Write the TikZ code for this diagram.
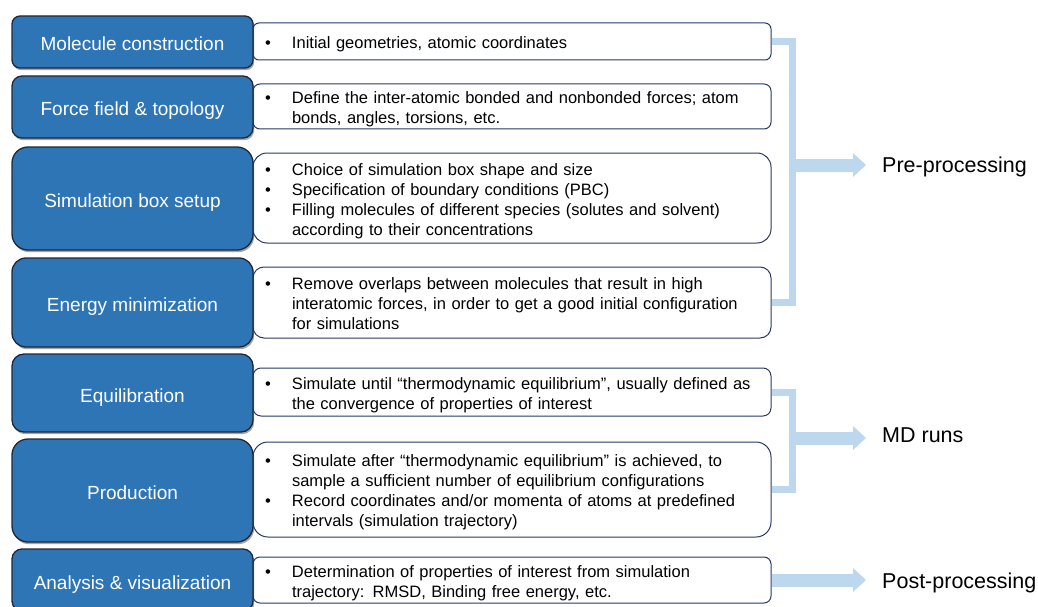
\documentclass[tikz,border=0pt]{standalone}
\usepackage{fontspec}
\setmainfont{Liberation Sans}
\usetikzlibrary{shadows,arrows.meta,calc}
\definecolor{bluefill}{RGB}{46,117,182}
\definecolor{blueedge}{RGB}{30,40,58}
\definecolor{navy}{RGB}{38,58,100}
\definecolor{lightblue}{RGB}{189,215,238}
\newcommand{\bitem}[1]{\makebox[35pt][l]{\hspace{8pt}\textbullet}#1}
\newcommand{\cont}[1]{\hspace*{35pt}#1}
\newcommand{\tp}{\rule{0pt}{19pt}}
\newcommand{\bt}{\rule[-4.5pt]{0pt}{4.5pt}}
\begin{document}
\begin{tikzpicture}[x=1pt,y=-1pt,
  stage/.style={draw=blueedge, line width=1.3pt, fill=bluefill, text=white,
    font=\fontsize{19}{23}\selectfont, minimum width=241pt, inner sep=0pt, align=center,
    text height=18pt, text depth=0pt,
    drop shadow={shadow xshift=1.2pt,shadow yshift=-2.2pt,opacity=0.5,fill=black!70}},
  desc/.style={draw=navy, line width=1pt, fill=white, minimum width=518pt, text width=510pt,
    inner xsep=4pt, inner ysep=0pt, align=left, font=\fontsize{16.5}{20}\selectfont},
  bracket/.style={draw=lightblue, line width=7pt, line join=miter},
  blockarrow/.style={draw=lightblue, line width=13pt,
    -{Triangle[length=13pt,width=24pt,line width=0pt]}},
  phase/.style={font=\fontsize{21.5}{26}\selectfont, inner sep=0pt, anchor=base west}]
\useasboundingbox (0,0) rectangle (1038,607);
\clip (0,0) rectangle (1038,607);

% description boxes
\node[desc, minimum height=37pt, rounded corners=6pt] (w1) at (512,41.5)
  {\tp\bitem{Initial geometries, atomic coordinates}\bt};
\node[desc, minimum height=45pt, rounded corners=7pt] (w2) at (512,106.5)
  {\tp\bitem{Define the inter-atomic bonded and nonbonded forces; atom}\\
   \cont{bonds, angles, torsions, etc.}\bt};
\node[desc, minimum height=90pt, rounded corners=14pt] (w3) at (512,198)
  {\tp\bitem{Choice of simulation box shape and size}\\
   \bitem{Specification of boundary conditions (PBC)}\\
   \bitem{Filling molecules of different species (solutes and solvent)}\\
   \cont{according to their concentrations}\bt};
\node[desc, minimum height=71pt, rounded corners=11pt] (w4) at (512,302.5)
  {\tp\bitem{Remove overlaps between molecules that result in high}\\
   \cont{interatomic forces, in order to get a good initial configuration}\\
   \cont{for simulations}\bt};
\node[desc, minimum height=48pt, rounded corners=8pt] (w5) at (512,392)
  {\tp\bitem{Simulate until “thermodynamic equilibrium”, usually defined as}\\
   \cont{the convergence of properties of interest}\bt};
\node[desc, minimum height=95pt, rounded corners=15pt] (w6) at (512,489.5)
  {\tp\bitem{Simulate after “thermodynamic equilibrium” is achieved, to}\\
   \cont{sample a sufficient number of equilibrium configurations}\\
   \bitem{Record coordinates and/or momenta of atoms at predefined}\\
   \cont{intervals (simulation trajectory)}\bt};
\node[desc, minimum height=46pt, rounded corners=7pt] (w7) at (512,580)
  {\tp\bitem{Determination of properties of interest from simulation}\\
   \cont{trajectory: RMSD, Binding free energy, etc.}\bt};

% stage boxes
\node[stage, minimum height=52pt, rounded corners=8pt] (b1) at (132.5,42) {Molecule construction};
\node[stage, minimum height=62pt, rounded corners=10pt] (b2) at (132.5,107) {Force field \& topology};
\node[stage, minimum height=103pt, rounded corners=16pt] (b3) at (132.5,198.5) {Simulation box setup};
\node[stage, minimum height=89pt, rounded corners=14pt] (b4) at (132.5,302.5) {Energy minimization};
\node[stage, minimum height=78pt, rounded corners=12pt] (b5) at (132.5,393) {Equilibration};
\node[stage, minimum height=103pt, rounded corners=16pt] (b6) at (132.5,490.5) {Production};
\node[stage, minimum height=62pt, rounded corners=10pt] (b7) at (132.5,580) {Analysis \& visualization};

% phase labels
\node[phase] (pre) at (882,172) {Pre-processing};
\node[phase] (md) at (882,442) {MD runs};
\node[phase] (post) at (882,588) {Post-processing};

% brackets and arrows
\coordinate (v) at (792.5,0);
\coordinate (a1) at (866,165);
\coordinate (a2) at (866,438);
\coordinate (a3) at (866,580);
\draw[bracket] (w1.east) -| (v |- w4.east) -- (w4.east);
\draw[bracket] (w5.east) -| (v |- w6.east) -- (w6.east);
\draw[blockarrow] (v |- a1) -- (a1);
\draw[blockarrow] (v |- a2) -- (a2);
\draw[blockarrow] (w7.east) -- (a3);
\end{tikzpicture}
\end{document}
